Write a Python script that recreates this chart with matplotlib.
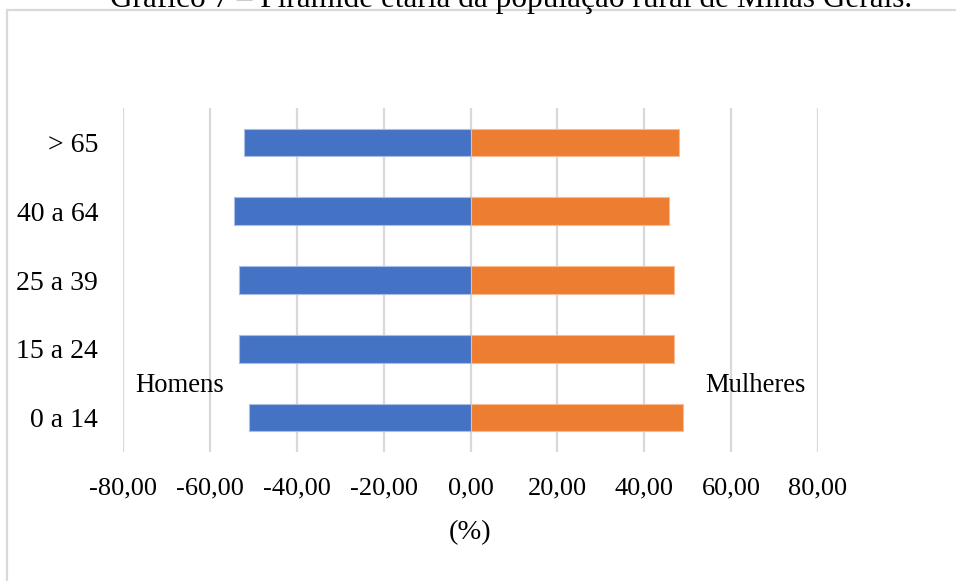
import matplotlib
matplotlib.use("Agg")
import matplotlib.pyplot as plt
from matplotlib.ticker import FuncFormatter, MultipleLocator
from matplotlib.patches import Rectangle

plt.rcParams['font.family'] = ['Liberation Serif', 'DejaVu Serif']

# faixas etarias, de baixo para cima
faixas = ["0 a 14", "15 a 24", "25 a 39", "40 a 64", "> 65"]
homens = [51.1, 53.2, 53.2, 54.4, 52.1]      # % (desenhado para a esquerda)
mulheres = [48.9, 46.8, 46.8, 45.6, 47.9]    # %

titulo = "Gráfico 7 – Pirâmide etária da população rural de Minas Gerais."

azul = "#4472C4"
laranja = "#ED7D31"
grade = "#D9D9D9"

fig = plt.figure(figsize=(9.56, 5.81), dpi=100)
ax = fig.add_axes([0.1287, 0.222, 0.727, 0.592])

pos = range(len(faixas))
ax.barh(pos, [-h for h in homens], height=0.4, color=azul,
        edgecolor="#A9BDE6", linewidth=0.8, zorder=3)
ax.barh(pos, mulheres, height=0.4, color=laranja,
        edgecolor="#F6BB95", linewidth=0.8, zorder=3)

ax.set_xlim(-80, 80)
ax.set_ylim(-0.5, len(faixas) - 0.5)
ax.xaxis.set_major_locator(MultipleLocator(20))
ax.xaxis.set_major_formatter(FuncFormatter(lambda v, p: f"{v:.2f}".replace(".", ",")))
ax.set_yticks(list(pos))
ax.set_yticklabels(faixas)

ax.grid(axis="x", color=grade, linewidth=1.6, zorder=0)
ax.set_axisbelow(True)
for s in ax.spines.values():
    s.set_visible(False)
ax.tick_params(axis="x", length=0, pad=18, labelsize=19, colors="#000000")
ax.tick_params(axis="y", length=0, pad=18, labelsize=20, colors="#000000")

ax.set_xlabel("(%)", fontsize=20.5, labelpad=15)

ax.text(-77.2, 0.47, "Homens", fontsize=19.2, va="center", ha="left")
ax.text(54.0, 0.47, "Mulheres", fontsize=19.2, va="center", ha="left")

# moldura do grafico
fig.patches.append(Rectangle((7 / 956, -0.05), 1.1, 1 - 10 / 581 + 0.05,
                             transform=fig.transFigure, fill=False,
                             edgecolor=grade, linewidth=1.6))

fig.text(0.5345, 1 - 7 / 581, titulo, fontsize=22.5, ha="center", va="baseline")

fig.savefig("out.png", dpi=100)
